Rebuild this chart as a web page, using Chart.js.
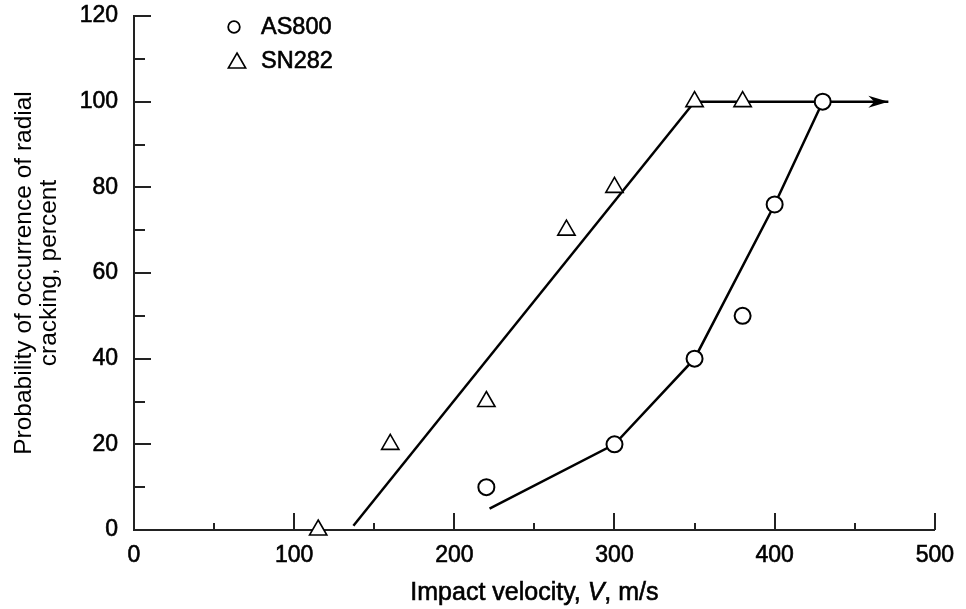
<!DOCTYPE html>
<html>
<head>
<meta charset="utf-8">
<script src="https://cdn.jsdelivr.net/npm/chart.js@4.4.1/dist/chart.umd.min.js"></script>
<style>
  html, body { margin: 0; padding: 0; background: #fff; }
  canvas { display: block; }
</style>
</head>
<body>
<canvas id="chart" width="966" height="609"></canvas>
<script>
// measured points
const as800Velocity = [220, 300, 350, 380, 400, 430];
const as800Prob = [10, 20, 40, 50, 76, 100];
const sn282Velocity = [115, 160, 220, 270, 300, 350, 380];
const sn282Prob = [0, 20, 30, 70, 80, 100, 100];

// hand-drawn trend lines
const as800CurveVelocity = [222, 300, 350, 400, 430];
const as800CurveProb = [5, 20, 40, 76, 100];
const sn282LineVelocity = [137, 350];
const sn282LineProb = [1, 100];
const plateauVelocity = [350, 471];
const plateauProb = [100, 100];

const xTicks = [0, 100, 200, 300, 400, 500];
const yTicks = [0, 20, 40, 60, 80, 100, 120];
const legendNames = ['AS800', 'SN282'];

const INK = '#000';
const FONT = 'Liberation Sans, Arial, Helvetica, sans-serif';
const TEXT_STROKE = 0.6;

function pts(xs, ys) {
  return xs.map((x, i) => ({ x: x, y: ys[i] }));
}

function lineSet(xs, ys) {
  return {
    data: pts(xs, ys),
    showLine: true,
    pointRadius: 0,
    borderColor: INK,
    borderWidth: 2.5,
    order: 1,
    clip: false
  };
}

// filled text with a hairline stroke so it reads as heavy as the print
function heavyText(ctx, t, x, y) {
  ctx.fillText(t, x, y);
  ctx.lineWidth = TEXT_STROKE;
  ctx.strokeText(t, x, y);
}

// inward major/minor tick marks on both axes
const tickMarks = {
  id: 'tickMarks',
  beforeDatasetsDraw(chart) {
    const ctx = chart.ctx;
    const a = chart.chartArea;
    const xs = chart.scales.x, ys = chart.scales.y;
    ctx.save();
    ctx.strokeStyle = '#222';
    ctx.lineWidth = 2;
    ctx.beginPath();
    for (let i = 0; i < xTicks.length; i++) {
      const px = Math.round(xs.getPixelForValue(xTicks[i]));
      if (i > 0) { ctx.moveTo(px, a.bottom); ctx.lineTo(px, a.bottom - 17); }
      if (i < xTicks.length - 1) {
        const mx = Math.round(xs.getPixelForValue((xTicks[i] + xTicks[i + 1]) / 2));
        ctx.moveTo(mx, a.bottom); ctx.lineTo(mx, a.bottom - 7);
      }
    }
    for (let i = 0; i < yTicks.length; i++) {
      const py = Math.round(ys.getPixelForValue(yTicks[i]));
      if (i > 0) { ctx.moveTo(a.left, py); ctx.lineTo(a.left + 17, py); }
      if (i < yTicks.length - 1) {
        const my = Math.round(ys.getPixelForValue((yTicks[i] + yTicks[i + 1]) / 2));
        ctx.moveTo(a.left, my); ctx.lineTo(a.left + 11, my);
      }
    }
    ctx.stroke();
    ctx.restore();
  }
};

// arrowhead at the end of the plateau line
const arrowHead = {
  id: 'arrowHead',
  afterDatasetsDraw(chart) {
    const meta = chart.getDatasetMeta(4);
    const p = meta.data[meta.data.length - 1];
    const ctx = chart.ctx;
    ctx.save();
    ctx.fillStyle = INK;
    ctx.beginPath();
    ctx.moveTo(p.x, p.y);
    ctx.lineTo(p.x - 20, p.y - 6);
    ctx.lineTo(p.x - 14, p.y);
    ctx.lineTo(p.x - 20, p.y + 6);
    ctx.closePath();
    ctx.fill();
    ctx.restore();
  }
};

// symbol legend and x-axis title with italic V
const annotations = {
  id: 'annotations',
  afterDraw(chart) {
    const ctx = chart.ctx;
    const a = chart.chartArea;
    ctx.save();
    ctx.strokeStyle = INK;
    ctx.fillStyle = '#fff';
    ctx.lineWidth = 1.8;

    const cy = a.top + 11;
    ctx.beginPath();
    ctx.arc(a.left + 100, cy, 5.8, 0, Math.PI * 2);
    ctx.fill();
    ctx.stroke();

    const ty = a.top + 47, tx = a.left + 103, r = 10;
    ctx.lineWidth = 1.6;
    ctx.beginPath();
    ctx.moveTo(tx, ty - r);
    ctx.lineTo(tx + r * 0.866, ty + r / 2);
    ctx.lineTo(tx - r * 0.866, ty + r / 2);
    ctx.closePath();
    ctx.fill();
    ctx.stroke();

    ctx.fillStyle = INK;
    ctx.font = '23.5px ' + FONT;
    ctx.textBaseline = 'middle';
    ctx.textAlign = 'left';
    heavyText(ctx, legendNames[0], a.left + 127, cy + 1);
    heavyText(ctx, legendNames[1], a.left + 127, a.top + 46);

    const parts = [
      ['Impact velocity, ', 'normal'],
      ['V', 'italic'],
      [', m/s', 'normal']
    ];
    let total = 0;
    const widths = parts.map(([t, st]) => {
      ctx.font = st + ' 25px ' + FONT;
      const w = ctx.measureText(t).width;
      total += w;
      return w;
    });
    let x = (a.left + a.right) / 2 - total / 2;
    ctx.textBaseline = 'alphabetic';
    parts.forEach(([t, st], i) => {
      ctx.font = st + ' 25px ' + FONT;
      heavyText(ctx, t, x, a.bottom + 70);
      x += widths[i];
    });
    ctx.restore();
  }
};

new Chart(document.getElementById('chart'), {
  type: 'scatter',
  data: {
    datasets: [
      {
        label: legendNames[0],
        data: pts(as800Velocity, as800Prob),
        pointStyle: 'circle',
        pointRadius: 8,
        pointBorderWidth: 2,
        pointBackgroundColor: '#fff',
        pointBorderColor: INK,
        order: 0,
        clip: false
      },
      {
        label: legendNames[1],
        data: pts(sn282Velocity, sn282Prob),
        pointStyle: 'triangle',
        pointRadius: 10,
        pointBorderWidth: 1.6,
        pointBackgroundColor: '#fff',
        pointBorderColor: INK,
        order: 0,
        clip: false
      },
      lineSet(as800CurveVelocity, as800CurveProb),
      lineSet(sn282LineVelocity, sn282LineProb),
      lineSet(plateauVelocity, plateauProb)
    ]
  },
  options: {
    responsive: false,
    animation: false,
    events: [],
    layout: { autoPadding: false, padding: { top: 16, right: 27, left: 0, bottom: 0 } },
    plugins: {
      legend: { display: false },
      tooltip: { enabled: false }
    },
    scales: {
      x: {
        type: 'linear',
        min: 0,
        max: 500,
        afterBuildTicks: s => { s.ticks = xTicks.map(v => ({ value: v })); },
        afterFit: s => { s.height = 79; },
        grid: { display: false, drawTicks: false },
        border: { display: true, color: '#222', width: 2 },
        ticks: {
          padding: 12, color: INK, font: { family: FONT, size: 23 },
          textStrokeColor: INK, textStrokeWidth: TEXT_STROKE
        }
      },
      y: {
        type: 'linear',
        min: 0,
        max: 120,
        afterBuildTicks: s => { s.ticks = yTicks.map(v => ({ value: v })); },
        afterFit: s => { s.width = 134; s.paddingTop = 0; },
        grid: { display: false, drawTicks: false },
        border: { display: true, color: '#222', width: 2 },
        ticks: {
          padding: 16, color: INK, font: { family: FONT, size: 23 },
          textStrokeColor: INK, textStrokeWidth: TEXT_STROKE
        },
        title: {
          display: true,
          text: ['Probability of occurrence of radial', 'cracking, percent'],
          color: INK,
          font: { family: FONT, size: 24.5, lineHeight: 1.05 },
          padding: { top: 11, bottom: 0 }
        }
      }
    }
  },
  plugins: [tickMarks, arrowHead, annotations]
});
</script>
</body>
</html>
